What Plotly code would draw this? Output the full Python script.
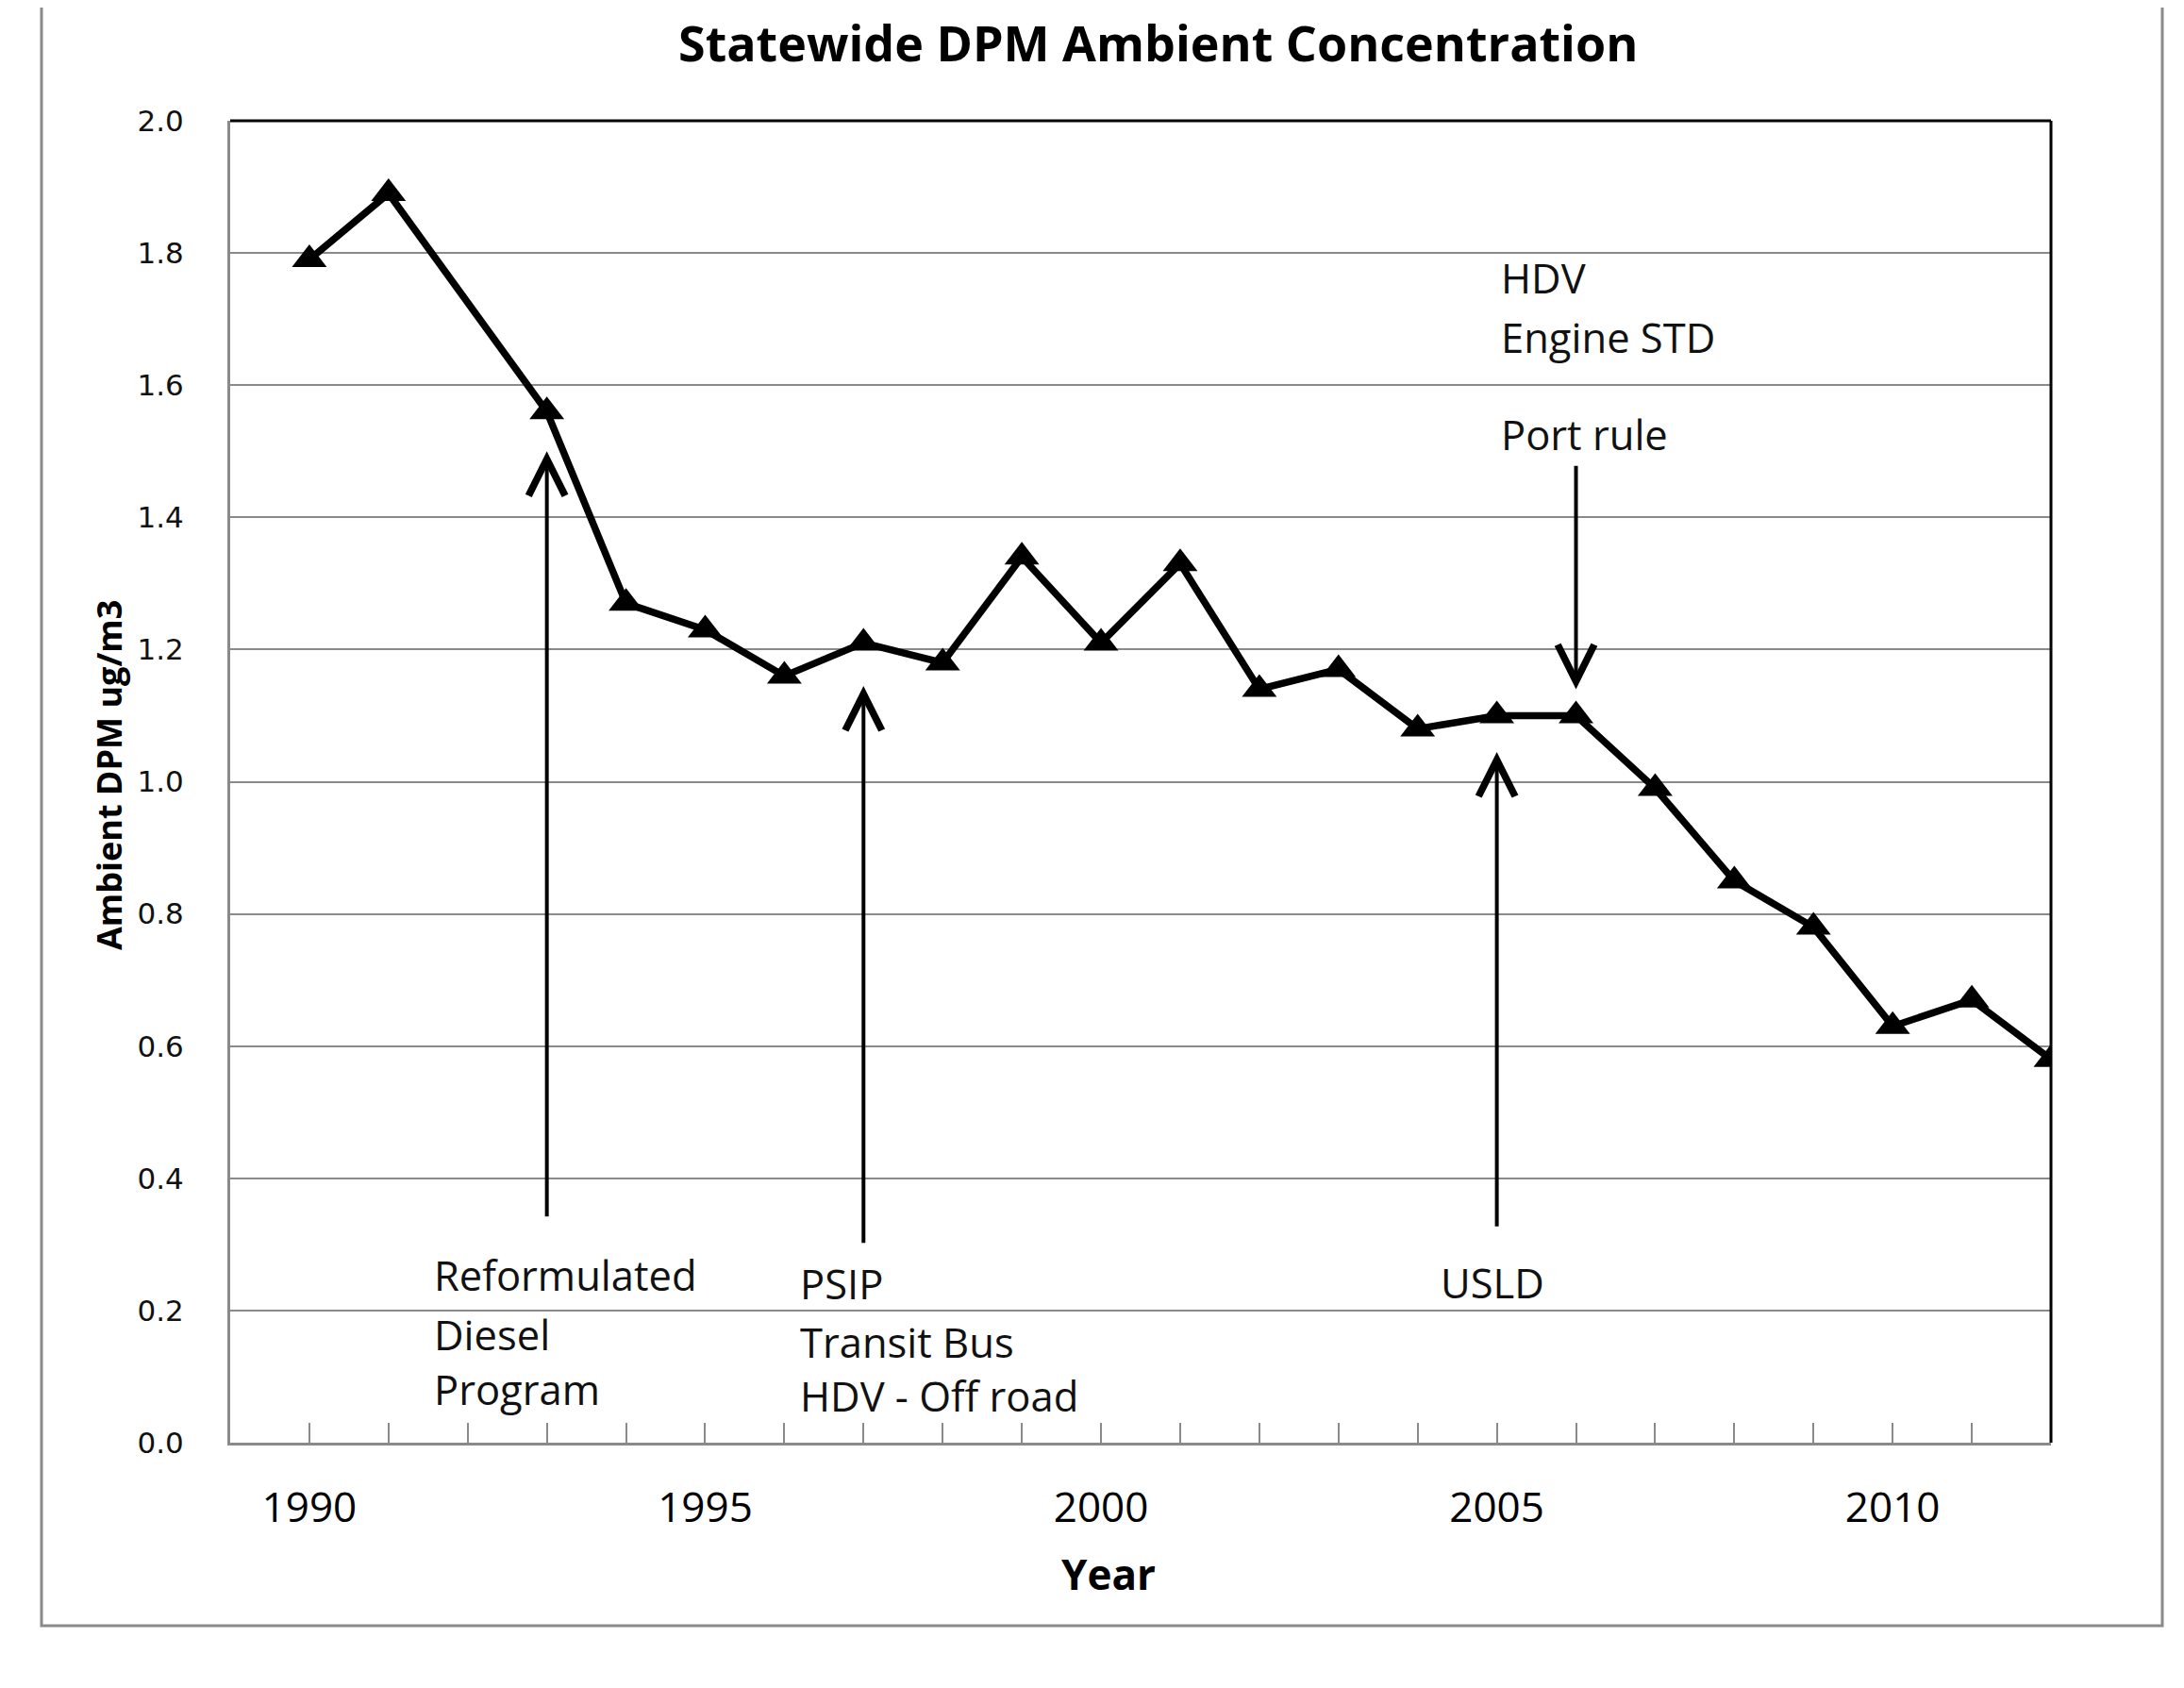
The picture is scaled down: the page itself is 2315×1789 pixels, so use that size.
import plotly.graph_objects as go

years = list(range(1990, 2013))
dpm = [1.79, 1.89, None, 1.56, 1.27, 1.23, 1.16, 1.21, 1.18, 1.34, 1.21, 1.33,
       1.14, 1.17, 1.08, 1.10, 1.10, 0.99, 0.85, 0.78, 0.63, 0.67, 0.58]

# arrows: x position (year), tail y, head y
arrow_x = [1993, 1997, 2005, 2006]
arrow_tail = [0.34, 0.30, 0.325, 1.48]
arrow_head = [1.50, 1.145, 1.045, 1.14]

# annotation text lines: x (year), y (value), text
label_x = [1991.55, 1991.55, 1991.55, 1996.17, 1996.17, 1996.17, 2004.27, 2005.03, 2005.03, 2005.03]
label_y = [0.253, 0.164, 0.080, 0.240, 0.152, 0.070, 0.242, 1.762, 1.673, 1.526]
label_text = ["Reformulated", "Diesel", "Program", "PSIP", "Transit Bus", "HDV - Off road",
              "USLD", "HDV", "Engine STD", "Port rule"]

title_text = "Statewide DPM Ambient Concentration"
x_title = "Year"
y_title = "Ambient DPM ug/m3"
y_ticks = [0.0, 0.2, 0.4, 0.6, 0.8, 1.0, 1.2, 1.4, 1.6, 1.8, 2.0]

OFF = 8  # browser default body margin
W, H = 2315 - OFF, 1789 - OFF
L, R, T, B = 244, 2174, 128, 1529  # page pixel positions of plot area
pw, ph = R - L, B - T

TXT = "Open Sans, Noto Sans, sans-serif"
GRID = "#8a8a8a"

fig = go.Figure()
fig.add_trace(go.Scatter(
    x=years, y=dpm, mode="lines+markers", connectgaps=True,
    line=dict(color="black", width=7.5),
    marker=dict(symbol="triangle-up", size=32, color="black"),
    showlegend=False, hoverinfo="skip",
))

annotations = []
for ax_, t, h in zip(arrow_x, arrow_tail, arrow_head):
    annotations.append(dict(
        x=ax_, y=h, ax=ax_, ay=t, xref="x", yref="y", axref="x", ayref="y",
        showarrow=True, arrowhead=5, arrowsize=1.9, arrowwidth=4, arrowcolor="black",
        text="",
    ))
for x_, y_, s in zip(label_x, label_y, label_text):
    annotations.append(dict(
        x=x_, y=y_, xref="x", yref="y", text=s, showarrow=False,
        xanchor="left", yanchor="middle",
        font=dict(family=TXT, size=43.5, color="#111111"),
    ))
annotations.append(dict(
    x=(1175 - L) / pw, y=(B - 1668) / ph, xref="paper", yref="paper",
    text="<b>%s</b>" % x_title, showarrow=False, xanchor="center", yanchor="middle",
    font=dict(family=TXT, size=44, color="black"),
))
annotations.append(dict(
    x=(115 - L) / pw, y=(B - 822) / ph, xref="paper", yref="paper",
    text="<b>%s</b>" % y_title, showarrow=False, xanchor="center", yanchor="middle",
    textangle=-90, font=dict(family=TXT, size=36, color="black"),
))
annotations.append(dict(
    x=(1227 - L) / pw, y=(B - 45) / ph, xref="paper", yref="paper",
    text="<b>%s</b>" % title_text, showarrow=False, xanchor="center", yanchor="middle",
    font=dict(family=TXT, size=52, color="black"),
))

shapes = [
    dict(type="line", xref="paper", yref="paper", x0=0, x1=1, y0=1, y1=1,
         line=dict(color="black", width=3)),
    dict(type="line", xref="paper", yref="paper", x0=1, x1=1, y0=0, y1=1,
         line=dict(color="black", width=3)),
    dict(type="rect", xref="paper", yref="paper",
         x0=(44 - L) / pw, x1=(2292 - L) / pw, y0=(B - 1723) / ph, y1=(B + 20) / ph,
         line=dict(color=GRID, width=3), layer="below"),
]

fig.update_layout(
    width=W, height=H,
    margin=dict(l=L - OFF, r=W - (R - OFF), t=T - OFF, b=H - (B - OFF), pad=0),
    paper_bgcolor="white", plot_bgcolor="white",
    annotations=annotations, shapes=shapes,
    xaxis=dict(
        range=[1989, 2012], tick0=1990, dtick=5, tickmode="linear",
        ticks="inside", ticklen=21, tickwidth=2, tickcolor=GRID,
        minor=dict(dtick=1, tick0=1989, ticks="inside", ticklen=21, tickwidth=2, tickcolor=GRID),
        showgrid=False, zeroline=False,
        showline=True, linecolor=GRID, linewidth=3,
        tickfont=dict(family=TXT, size=44, color="black"),
        ticklabelstandoff=28,
    ),
    yaxis=dict(
        range=[0, 2.0], tickvals=y_ticks, ticktext=["%.1f" % v for v in y_ticks],
        showgrid=True, gridcolor=GRID, gridwidth=2, zeroline=False,
        showline=True, linecolor=GRID, linewidth=3, ticks="",
        tickfont=dict(family="DejaVu Sans, Verdana, sans-serif", size=31, color="#111111"),
        ticklabelstandoff=40,
    ),
)

fig.write_html("out.html")
